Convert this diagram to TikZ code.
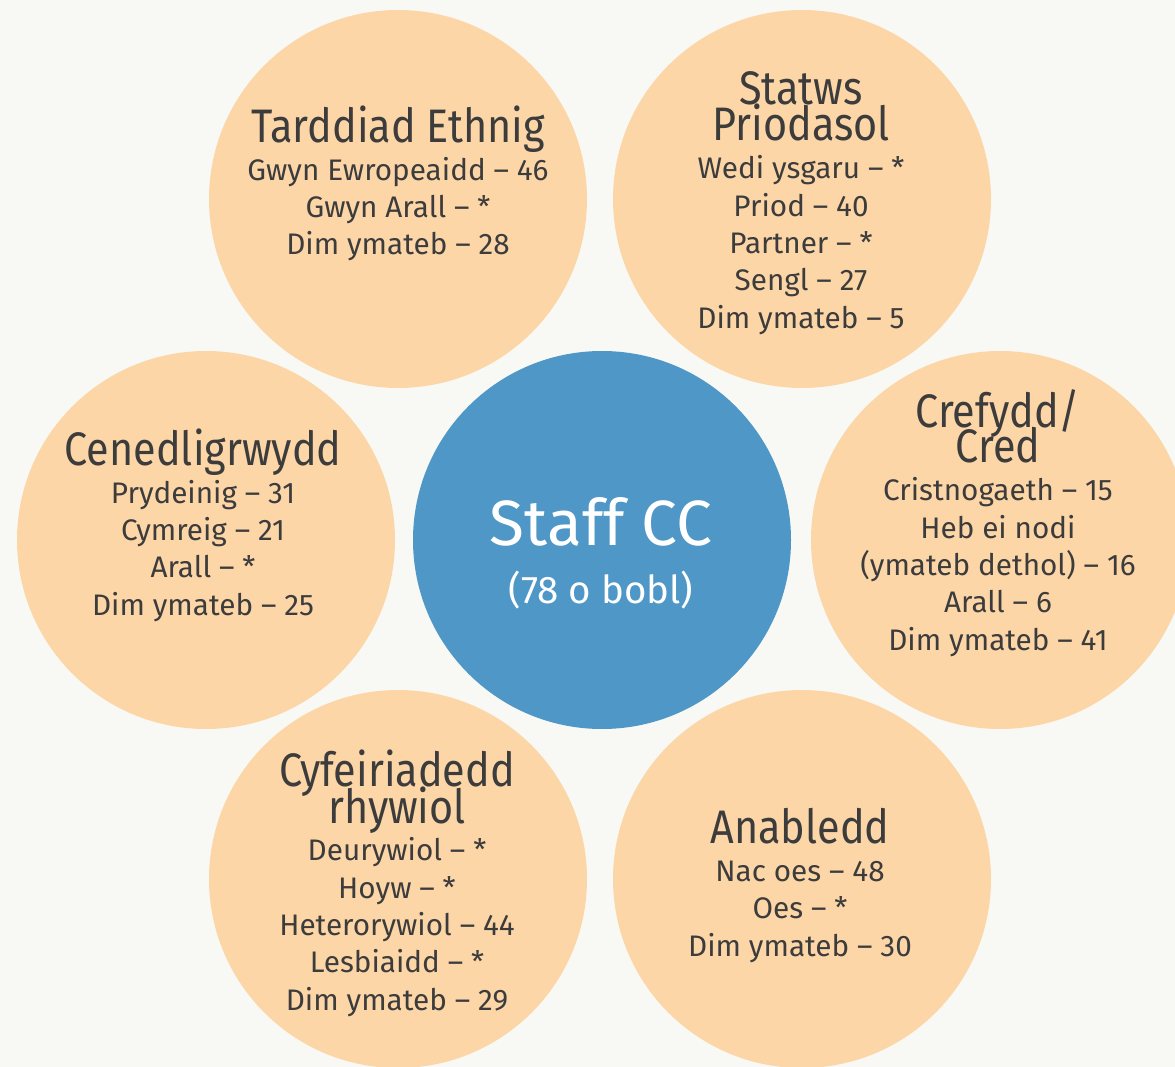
\documentclass[tikz,border=0pt]{standalone}
\usepackage{fontspec}
\setmainfont{Fira Sans}
\newfontfamily\headfont[FakeStretch=0.88]{Fira Sans}
\definecolor{paper}{HTML}{F8F9F4}
\definecolor{peach}{HTML}{FDD6A8}
\definecolor{staffblue}{HTML}{4E97C7}
\definecolor{ink}{HTML}{3C3C3C}
\lineskiplimit=-100pt
\newcommand{\head}[1]{{\headfont\fontsize{47}{37.3}\selectfont #1}}
\tikzset{
  bubble/.style={circle, fill=peach, minimum size=378pt, inner sep=0pt},
  hub/.style={circle, fill=staffblue, minimum size=378pt, inner sep=0pt},
  % anchor base sits on the last line
  facts/.style={align=center, anchor=base, inner sep=0pt, text=ink,
    font=\fontsize{29.7}{37.3}\selectfont},
}
\begin{document}
\begin{tikzpicture}[x=1pt, y=-1pt]
  \fill[paper] (0,0) rectangle (1175,1067);
  \useasboundingbox (0,0) rectangle (1175,1067);
  % the six groups round the staff total
  \node[bubble] (ethnig) at (398,199) {};
  \node[bubble] (priod) at (802,199) {};
  \node[bubble] (cenedl) at (206,540) {};
  \node[bubble] (crefydd) at (1000,540) {};
  \node[bubble] (rhyw) at (398,879) {};
  \node[bubble] (anabl) at (802,879) {};
  \node[hub] (staff) at (602,540) {};
  % texts
  \node[facts] (ethnig-t) at (398,255) {\head{Tarddiad Ethnig}\\[0.5pt]Gwyn Ewropeaidd – 46\\Gwyn Arall – *\\Dim ymateb – 28};
  \node[facts] (priod-t) at (801,328) {\head{Statws}\\[-1pt]\head{Priodasol}\\[1pt]Wedi ysgaru – *\\Priod – 40\\Partner – *\\Sengl – 27\\Dim ymateb – 5};
  \node[facts] (cenedl-t) at (203,615) {\head{Cenedligrwydd}\\[0.5pt]Prydeinig – 31\\Cymreig – 21\\Arall – *\\Dim ymateb – 25};
  \node[facts] (crefydd-t) at (998,650) {\head{Crefydd/}\\[-2pt]\head{Cred}\\[1pt]Cristnogaeth – 15\\Heb ei nodi\\(ymateb dethol) – 16\\Arall – 6\\Dim ymateb – 41};
  \node[facts] (rhyw-t) at (397,1010) {\head{Cyfeiriadedd}\\[-1pt]\head{rhywiol}\\[0.5pt]Deurywiol – *\\Hoyw – *\\Heterorywiol – 44\\Lesbiaidd – *\\Dim ymateb – 29};
  \node[facts] (anabl-t) at (800,956) {\head{Anabledd}\\[0.5pt]Nac oes – 48\\Oes – *\\Dim ymateb – 30};
  \node[facts, text=white, font=\fontsize{38.5}{58}\selectfont] (staff-t) at (601,603)
    {{\fontsize{64}{58}\selectfont Staff CC}\\(78 o bobl)};
\end{tikzpicture}
\end{document}
